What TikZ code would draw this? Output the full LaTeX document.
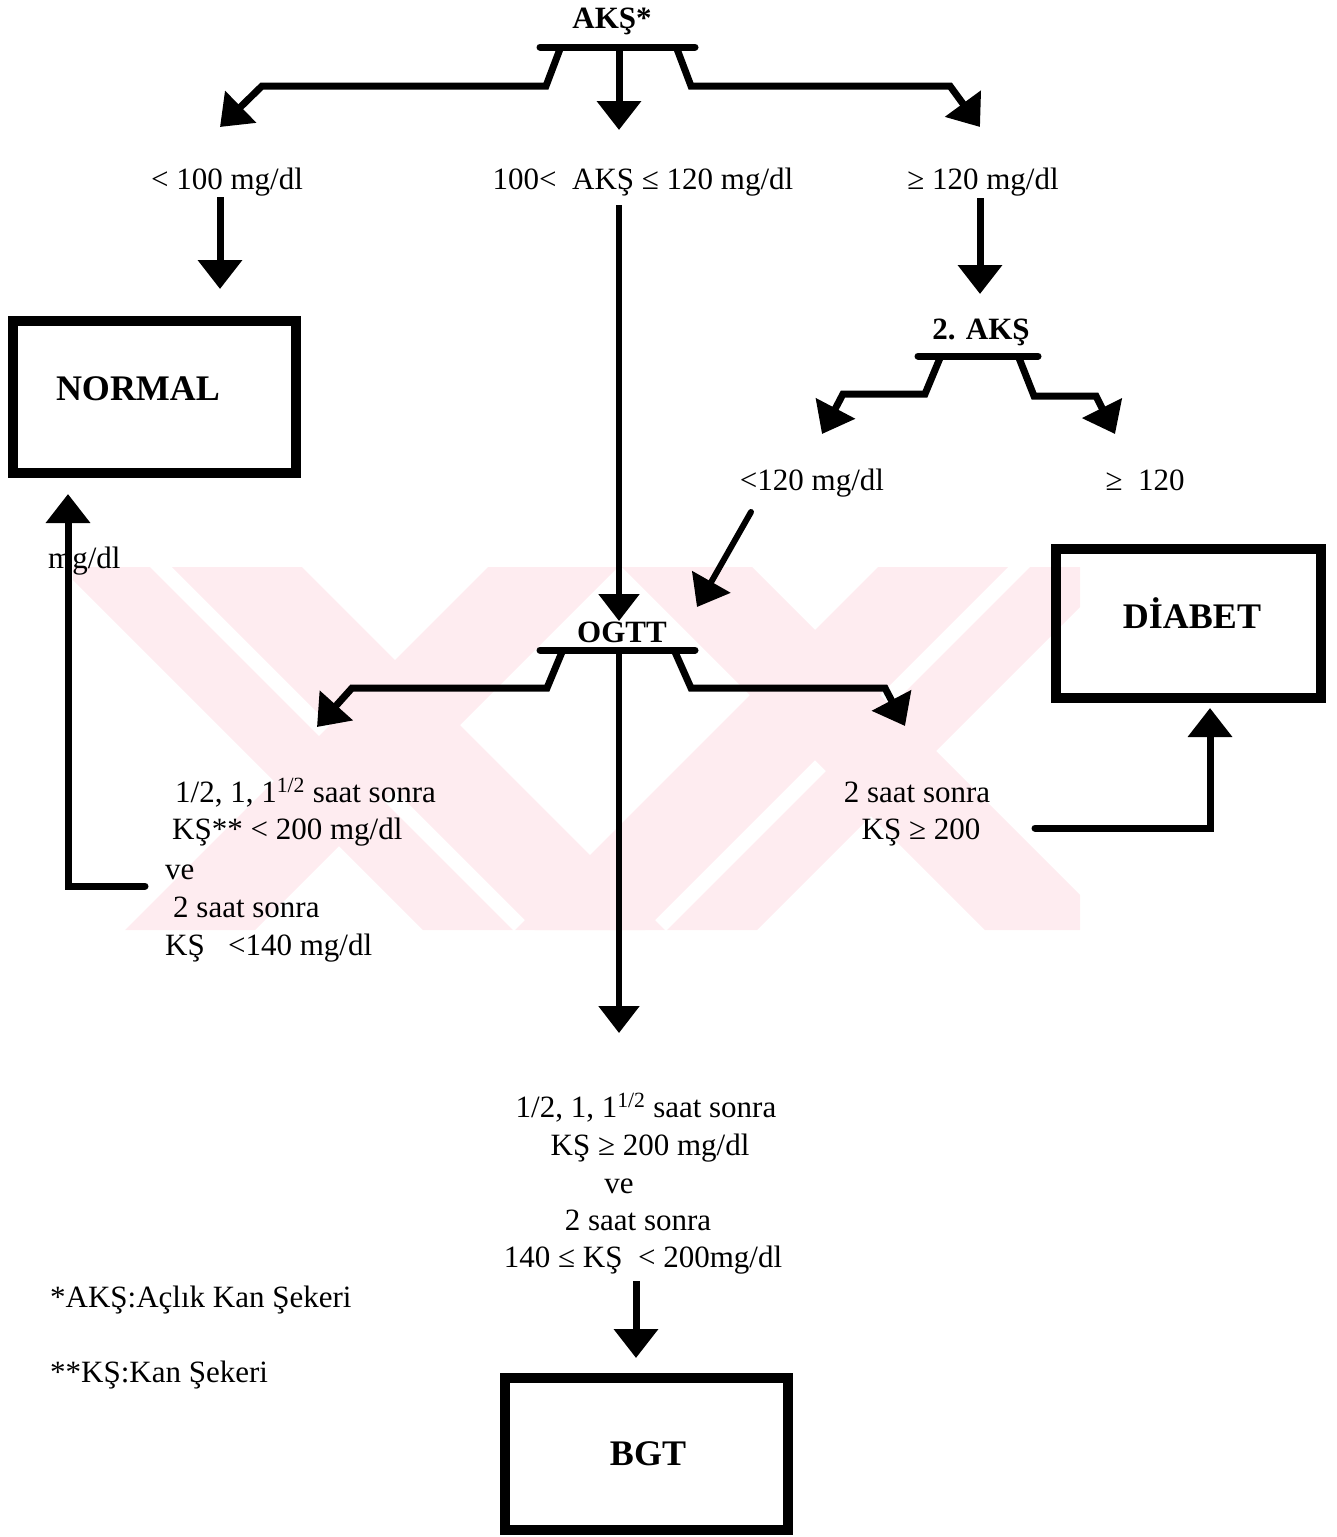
\documentclass[tikz,border=0pt]{standalone}
\usepackage{fontspec}
\setmainfont{Liberation Serif}
\usetikzlibrary{arrows.meta}
\definecolor{wm}{RGB}{254,236,240}
\begin{document}
\begin{tikzpicture}[x=1pt,y=-1pt,
  lbl/.style={font=\fontsize{31}{38}\selectfont, inner sep=0pt, anchor=base},
  lblw/.style={lbl, anchor=base west},
  blbl/.style={font=\fontsize{31}{38}\selectfont\bfseries, inner sep=0pt, anchor=base},
  boxlbl/.style={font=\fontsize{36}{42}\selectfont\bfseries, inner sep=0pt, anchor=base},
  box/.style={draw, line width=10pt, inner sep=0pt, minimum width=283pt, minimum height=152pt},
  arr/.style={line width=7pt, -{Triangle[length=29pt,width=43pt]}},
  arrthin/.style={line width=5.5pt, -{Triangle[length=27pt,width=40pt]}},
  bar/.style={line width=7pt, line cap=round}]
\useasboundingbox (0,0) rectangle (1337,1537);

% watermark
\begin{scope}
\clip (73,567) rectangle (1080,930);
\fill[wm] (60,567) -- (150,567) -- (513,930) -- (423,930) -- cycle;
\fill[wm] (172,567) -- (302,567) -- (665,930) -- (535,930) -- cycle;
\fill[wm] (488,567) -- (618,567) -- (255,930) -- (125,930) -- cycle;
\fill[wm] (622,567) -- (752,567) -- (1115,930) -- (985,930) -- cycle;
\fill[wm] (878,567) -- (1008,567) -- (645,930) -- (515,930) -- cycle;
\fill[wm] (1030,567) -- (1120,567) -- (757,930) -- (667,930) -- cycle;
\end{scope}

% top split
\node[blbl] (aks) at (612,28) {AKŞ*};
\coordinate (b1l) at (540,47);
\coordinate (b1r) at (695,47);
\draw[bar] (b1l) -- (b1r);
\draw[arr] (560,49) -- (546,86) -- (262,86) -- (220,127);
\draw[arr] (619,50) -- (619,130);
\draw[arr] (677,49) -- (691,86) -- (950,86) -- (980,127);

\node[lbl] (l100) at (227,189) {< 100 mg/dl};
\node[lbl] (lmid) at (643,189) {100<\hspace{0.5em}AKŞ ≤ 120 mg/dl};
\node[lbl] (l120) at (983,189) {≥ 120 mg/dl};

% normal
\node[box] (normal) at (154.5,397) {};
\node[boxlbl] (normaltxt) at (138,400) {NORMAL};
\draw[arr] (220,197) -- (220,289);

% centre line to OGTT
\draw[arrthin] (619,205) -- (619,621);

% second AKS
\draw[arr] (980,198) -- (980,294);
\node[blbl] (aks2) at (981,339) {2. AKŞ};
\coordinate (b2l) at (918,356);
\coordinate (b2r) at (1038,356);
\draw[bar] (b2l) -- (b2r);
\draw[arr] (940,358) -- (925,394) -- (843,394) -- (822,434);
\draw[arr] (1019,358) -- (1034,396) -- (1096,396) -- (1115,434);
\node[lbl] (l120b) at (812,490) {<120 mg/dl};
\node[lbl] (g120) at (1145,490) {≥\hspace{0.5em}120};
\draw[arr, line width=6pt, line cap=round] (751,512) -- (697,607);

% diabet
\node[box, minimum width=265pt, minimum height=149pt] (diabet) at (1188.5,623.5) {};
\node[boxlbl] (diabettxt) at (1192,628) {DİABET};

% OGTT
\node[blbl] (ogtt) at (622,642) {OGTT};
\coordinate (b3l) at (540,650);
\coordinate (b3r) at (695,650);
\draw[bar] (b3l) -- (b3r);
\draw[arr] (562,652) -- (547,688) -- (352,688) -- (317,727);
\draw[arr] (675,652) -- (691,688) -- (885,688) -- (905,726);
\draw[arrthin] (619,652) -- (619,1033);

% left block
\node[lblw] (la1) at (175,802) {1/2, 1, 1\textsuperscript{1/2} saat sonra};
\node[lblw] (la2) at (172,839) {KŞ** < 200 mg/dl};
\node[lblw] (la3) at (165,879) {ve};
\node[lblw] (la4) at (173,917) {2 saat sonra};
\node[lblw] (la5) at (165,955) {KŞ\hspace{0.75em}<140 mg/dl};
\node[lblw] (mgdl) at (48,568) {mg/dl};
\draw[arr, line cap=round] (145,886) -- (68,886) -- (68,494);

% right block
\node[lbl] (ra1) at (917,802) {2 saat sonra};
\node[lbl] (ra2) at (921,839) {KŞ ≥ 200};
\draw[arr, line cap=round] (1035,828) -- (1210,828) -- (1210,708);

% bottom block
\node[lbl] (ba1) at (646,1117) {1/2, 1, 1\textsuperscript{1/2} saat sonra};
\node[lbl] (ba2) at (650,1155) {KŞ ≥ 200 mg/dl};
\node[lbl] (ba3) at (619,1193) {ve};
\node[lbl] (ba4) at (638,1230) {2 saat sonra};
\node[lbl] (ba5) at (643,1267) {140 ≤ KŞ\hspace{0.5em}< 200mg/dl};
\draw[arr] (636,1281) -- (636,1358);

% BGT
\node[box] (bgt) at (646.5,1454) {};
\node[boxlbl] (bgttxt) at (648,1465) {BGT};

% footnotes
\node[lblw] (fn1) at (50,1307) {*AKŞ:Açlık Kan Şekeri};
\node[lblw] (fn2) at (50,1382) {**KŞ:Kan Şekeri};
\end{tikzpicture}
\end{document}
